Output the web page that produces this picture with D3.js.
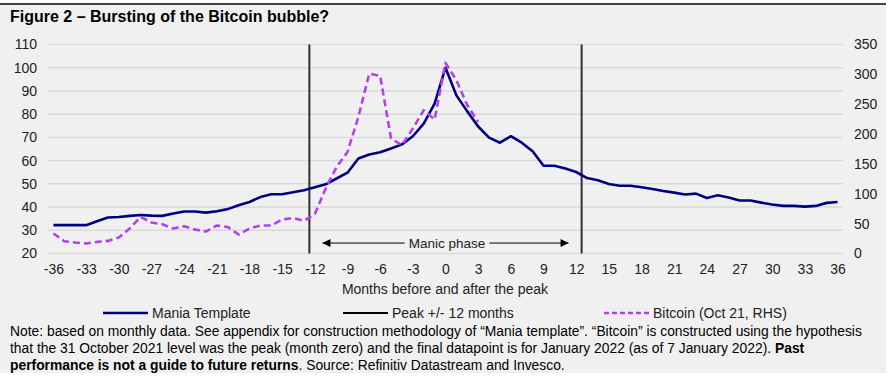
<!DOCTYPE html>
<html>
<head>
<meta charset="utf-8">
<script src="https://cdn.jsdelivr.net/npm/d3@7"></script>
<style>
html,body{margin:0;padding:0;background:#fff;}
svg{display:block;font-family:Arial,"Liberation Sans",sans-serif;}
</style>
</head>
<body>
<svg id="chart" width="895" height="380"></svg>
<script>
const months = d3.range(-36, 37);
const maniaTemplate = [32.2,32.2,32.2,32.2,33.9,35.5,35.7,36.2,36.6,36.3,36.2,37.2,38.1,38.1,37.6,38.2,39.1,40.8,42.2,44.3,45.5,45.5,46.4,47.2,48.5,49.8,52.3,54.8,60.9,62.6,63.6,65.2,67.0,70.5,75.9,84.5,100,88.1,81.2,74.7,69.9,67.7,70.5,67.7,64.0,57.8,57.8,56.6,55.1,52.5,51.5,49.9,49.2,49.2,48.5,47.8,46.9,46.2,45.4,45.8,43.9,45.1,44.1,42.8,42.8,41.9,41.1,40.5,40.5,40.2,40.5,41.8,42.2];
const bitcoinMonths = d3.range(-36, 4);
const bitcoin = [33.5,20.6,18.4,16.7,19.4,21.1,26.8,41.9,61.3,51.9,49.1,41.9,45.7,40.2,36.8,46.9,44.5,31.8,41.9,46.9,46.9,56.9,59.6,54.6,66,108.8,145,170,228.8,301.4,297.4,192.6,181.4,209.3,240,224.4,319.2,290.2,248.3,220.4];
const peakLines = [-12.5, 12.5];
const leftTicks = [20,30,40,50,60,70,80,90,100,110];
const rightTicks = [0,50,100,150,200,250,300,350];
const xTicks = d3.range(-36, 37, 3);
const manicPhase = {from:-11.3, to:11.3, label:"Manic phase", level:24.5};
const title = "Figure 2 \u2013 Bursting of the Bitcoin bubble?";
const xTitle = "Months before and after the peak";
const legendItems = ["Mania Template","Peak +/- 12 months","Bitcoin (Oct 21, RHS)"];

const svg = d3.select("#chart");
const navy = "#000080", purple = "#b340ee", dark = "#303030";
const FF = "Arial,'Liberation Sans',sans-serif";
const fmt = d => String(d);

svg.append("rect").attr("x",0).attr("y",4).attr("width",886).attr("height",369).attr("fill","#f0f0f0");
svg.append("line").attr("x1",0).attr("x2",886).attr("y1",4).attr("y2",4).attr("stroke","#444").attr("stroke-width",2);

svg.append("text").attr("x",10).attr("y",22).attr("font-size",16).attr("font-weight","bold").attr("fill","#000").text(title);

const L = 48, R = 843, T = 44.5, B = 253.5;
const x = d3.scaleLinear().domain([-36.5, 36.5]).range([L, R]);
const yL = d3.scaleLinear().domain([20, 110]).range([B, T]);
const yR = d3.scaleLinear().domain([0, 350]).range([B, T]);

svg.append("g").selectAll("line").data(leftTicks).join("line")
  .attr("x1",L).attr("x2",R).attr("y1",d=>yL(d)).attr("y2",d=>yL(d))
  .attr("stroke","#d9d9d9").attr("stroke-width",1.5);

const gl = svg.append("g").attr("transform",`translate(${L},0)`)
  .call(d3.axisLeft(yL).tickValues(leftTicks).tickFormat(fmt).tickSize(0).tickPadding(11));
gl.select(".domain").remove();
gl.selectAll("text").attr("font-size",14).attr("font-family",FF).attr("fill","#222");

const gr = svg.append("g").attr("transform",`translate(${R},0)`)
  .call(d3.axisRight(yR).tickValues(rightTicks).tickFormat(fmt).tickSize(0).tickPadding(11));
gr.select(".domain").remove();
gr.selectAll("text").attr("font-size",14).attr("font-family",FF).attr("fill","#222");

const gb = svg.append("g").attr("transform",`translate(0,${B})`)
  .call(d3.axisBottom(x).tickValues(xTicks).tickFormat(fmt).tickSize(0).tickPadding(11));
gb.select(".domain").remove();
gb.selectAll("text").attr("font-size",14).attr("font-family",FF).attr("fill","#222");

svg.append("text").attr("x",445).attr("y",294).attr("text-anchor","middle").attr("font-size",14).attr("fill","#222").text(xTitle);

svg.append("g").selectAll("line").data(peakLines).join("line")
  .attr("x1",d=>x(d)).attr("x2",d=>x(d)).attr("y1",T).attr("y2",B)
  .attr("stroke",dark).attr("stroke-width",2);

const defs = svg.append("defs");
defs.append("marker").attr("id","ah").attr("viewBox","0 0 10 10").attr("refX",10).attr("refY",5)
  .attr("markerWidth",10).attr("markerHeight",8).attr("markerUnits","userSpaceOnUse").attr("orient","auto-start-reverse")
  .append("path").attr("d","M0,0L10,5L0,10Z").attr("fill","#000");
const ay = yL(manicPhase.level);
const mt = svg.append("text").attr("x",447).attr("y",ay+4.5).attr("text-anchor","middle").attr("font-size",13.5).attr("fill","#222").text(manicPhase.label);
const bb = mt.node().getBBox();
svg.append("line").attr("x1",x(manicPhase.from)).attr("x2",bb.x-4).attr("y1",ay).attr("y2",ay)
  .attr("stroke","#000").attr("stroke-width",1).attr("marker-start","url(#ah)");
svg.append("line").attr("x1",bb.x+bb.width+4).attr("x2",x(manicPhase.to)).attr("y1",ay).attr("y2",ay)
  .attr("stroke","#000").attr("stroke-width",1).attr("marker-end","url(#ah)");

const maniaLine = d3.line().x((d,i)=>x(months[i])).y(d=>yL(d));
svg.append("path").datum(maniaTemplate).attr("d",maniaLine).attr("fill","none")
  .attr("stroke",navy).attr("stroke-width",2.6).attr("stroke-linejoin","round");
const btcLine = d3.line().x((d,i)=>x(bitcoinMonths[i])).y(d=>yR(d));
svg.append("path").datum(bitcoin).attr("d",btcLine).attr("fill","none")
  .attr("stroke",purple).attr("stroke-width",2.6).attr("stroke-dasharray","7,4").attr("stroke-linejoin","round");

const lg = svg.append("g");
const lgX = [103, 343, 604];
const lgStroke = [navy, "#000", purple];
const lgDash = [null, null, "5,3"];
legendItems.forEach((t,i)=>{
  lg.append("line").attr("x1",lgX[i]).attr("x2",lgX[i]+45).attr("y1",313).attr("y2",313)
    .attr("stroke",lgStroke[i]).attr("stroke-width",i==1?2:2.6).attr("stroke-dasharray",lgDash[i]);
  lg.append("text").attr("x",lgX[i]+49).attr("y",318).attr("font-size",14).attr("fill","#222").text(t);
});

const note = svg.append("text").attr("font-size",13.85).attr("fill","#000");
note.append("tspan").attr("x",10).attr("y",336).text("Note: based on monthly data. See appendix for construction methodology of \u201cMania template\u201d. \u201cBitcoin\u201d is constructed using the hypothesis");
const l2 = note.append("tspan").attr("x",10).attr("y",353);
l2.append("tspan").text("that the 31 October 2021 level was the peak (month zero) and the final datapoint is for January 2022 (as of 7 January 2022). ");
l2.append("tspan").attr("font-weight","bold").text("Past");
const l3 = note.append("tspan").attr("x",10).attr("y",370);
l3.append("tspan").attr("font-weight","bold").text("performance is not a guide to future returns");
l3.append("tspan").text(". Source: Refinitiv Datastream and Invesco.");
</script>
</body>
</html>
